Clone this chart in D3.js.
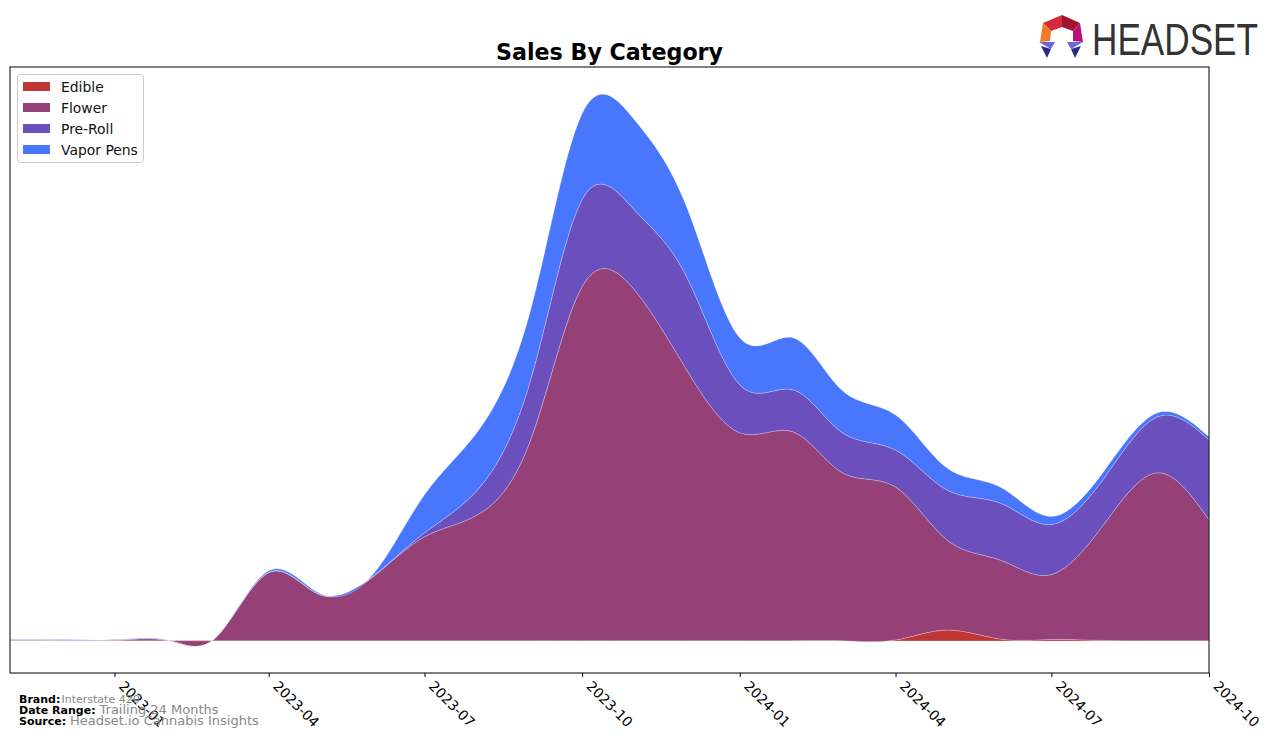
<!DOCTYPE html>
<html>
<head>
<meta charset="utf-8">
<script src="https://cdn.jsdelivr.net/npm/d3@7"></script>
<style>
  html, body { margin: 0; padding: 0; background: #fff; }
  svg { display: block; font-family: "DejaVu Sans", sans-serif; }
</style>
</head>
<body>
<svg id="chart" width="1276" height="743"></svg>
<script>
// ---- data (monthly) ----
const months = ["2022-11","2022-12","2023-01","2023-02","2023-03","2023-04","2023-05","2023-06",
  "2023-07","2023-08","2023-09","2023-10","2023-11","2023-12","2024-01","2024-02","2024-03",
  "2024-04","2024-05","2024-06","2024-07","2024-08","2024-09","2024-10"];
const categories = ["Edible", "Flower", "Pre-Roll", "Vapor Pens"];
const edible   = [0.3,0.3,0.3,0.3,0.2,0.2,0.2,0.2,0.2,0.2,0.3,0.3,0.3,0.3,0.3,0.3,0.3,1,11,2,1.5,0.5,0.2,0.2];
const flower   = [0.3,0.3,0.3,0.2,3,68,46,64,104,126,201,354,350,271,208,209,168,153,90,79,65,117,168,121];
const preRoll  = [0.4,0.4,0.4,0.3,0,0.5,0.5,0.5,4,25,60,87,80,93,48,42,40,37,50,57,50,46,56,80];
const vaporPens= [0.4,0.4,0.4,0.3,0,1.5,0.8,2.0,38,58,70,86,90,70,47,52,42,35,22,16,8,7,4,3];
const xTicks = ["2023-01","2023-04","2023-07","2023-10","2024-01","2024-04","2024-07","2024-10"];
const colors = ["#c23535", "#954177", "#6a4fbd", "#4877fd"];

const parse = d3.timeParse("%Y-%m");
const rows = months.map((m, i) => ({
  date: parse(m), "Edible": edible[i], "Flower": flower[i], "Pre-Roll": preRoll[i], "Vapor Pens": vaporPens[i]
}));

const svg = d3.select("#chart");
const L = 10, R = 1209, T = 67, B = 673;

const x = d3.scaleTime().domain([parse("2022-11"), parse("2024-10")]).range([L, R]);
const y = d3.scaleLinear().domain([-32, 574]).range([B, T]);

const series = d3.stack().keys(categories)(rows);

svg.append("defs").append("clipPath").attr("id", "clip")
  .append("rect").attr("x", L).attr("y", T).attr("width", R - L).attr("height", B - T);

const area = d3.area()
  .x(d => x(d.data.date))
  .y0(d => y(d[0]))
  .y1(d => y(d[1]))
  .curve(d3.curveNatural);

svg.append("g").attr("clip-path", "url(#clip)")
  .selectAll("path").data(series).join("path")
  .attr("d", area)
  .attr("fill", (d, i) => colors[i])
  .attr("stroke", "rgba(255,255,255,0.35)")
  .attr("stroke-width", 0.7);

// frame
svg.append("rect").attr("x", L).attr("y", T).attr("width", R - L).attr("height", B - T)
  .attr("fill", "none").attr("stroke", "#000").attr("stroke-width", 1);

// x axis
const xAxis = d3.axisBottom(x).tickValues(xTicks.map(parse)).tickSize(4).tickFormat(d3.timeFormat("%Y-%m"));
const gx = svg.append("g").attr("transform", `translate(0,${B})`).call(xAxis);
gx.select(".domain").remove();
gx.selectAll(".tick line").attr("stroke", "#000");
gx.selectAll(".tick text")
  .attr("font-size", 13.9).attr("font-family", "DejaVu Sans").attr("fill", "#000")
  .attr("text-anchor", "start")
  .attr("dy", null).attr("y", null)
  .attr("transform", "translate(3,14) rotate(45)");

// title
svg.append("text").attr("x", (L + R) / 2).attr("y", 60).attr("text-anchor", "middle")
  .attr("font-size", 22.2).attr("font-weight", "bold").text("Sales By Category");

// legend
const lg = svg.append("g");
lg.append("rect").attr("x", 17.5).attr("y", 74.5).attr("width", 126).attr("height", 88)
  .attr("rx", 3).attr("fill", "#fff").attr("stroke", "#cccccc");
categories.forEach((c, i) => {
  lg.append("rect").attr("x", 23).attr("y", 82 + i * 21).attr("width", 27).attr("height", 9).attr("fill", colors[i]);
  lg.append("text").attr("x", 61).attr("y", 92 + i * 21).attr("font-size", 13.9).attr("fill", "#111").text(c);
});

// footer
const foot = [["Brand:", "Interstate 420", 11, 61.5, 703], ["Date Range:", "Trailing 24 Months", 13, 99.5, 714], ["Source:", "Headset.io Cannabis Insights", 13, 70, 725]];
foot.forEach(f => {
  svg.append("text").attr("x", 19).attr("y", f[4]).attr("font-size", 11).attr("font-weight", "bold").text(f[0]);
  svg.append("text").attr("x", f[3]).attr("y", f[4]).attr("font-size", f[2]).attr("fill", "#888").text(f[1]);
});

// logo
const logo = svg.append("g");
const polys = [
  [[[1043,23],[1062,15],[1062,27],[1051,31]], "#d42a3c"],
  [[[1062,15],[1080,23],[1073,31],[1062,27]], "#a3122e"],
  [[[1043,23],[1051,31],[1050,41],[1040,42]], "#f07a2a"],
  [[[1080,23],[1083,42],[1073,41],[1073,31]], "#b8127a"],
  [[[1039,42],[1055,42],[1051,49]], "#6b63e0"],
  [[[1041,46],[1051,49],[1047,58]], "#2c2a86"],
  [[[1067,42],[1083,42],[1071,49]], "#6b63e0"],
  [[[1071,49],[1081,46],[1075,58]], "#2c2a86"]
];
polys.forEach(p => logo.append("polygon").attr("points", p[0].map(q => q.join(",")).join(" ")).attr("fill", p[1]));
logo.append("text").attr("x", 1092).attr("y", 55).attr("font-size", 45)
  .attr("font-family", "Liberation Sans Narrow, Liberation Sans, sans-serif")
  .attr("fill", "#333").attr("textLength", 166).attr("lengthAdjust", "spacingAndGlyphs").text("HEADSET");
</script>
</body>
</html>
